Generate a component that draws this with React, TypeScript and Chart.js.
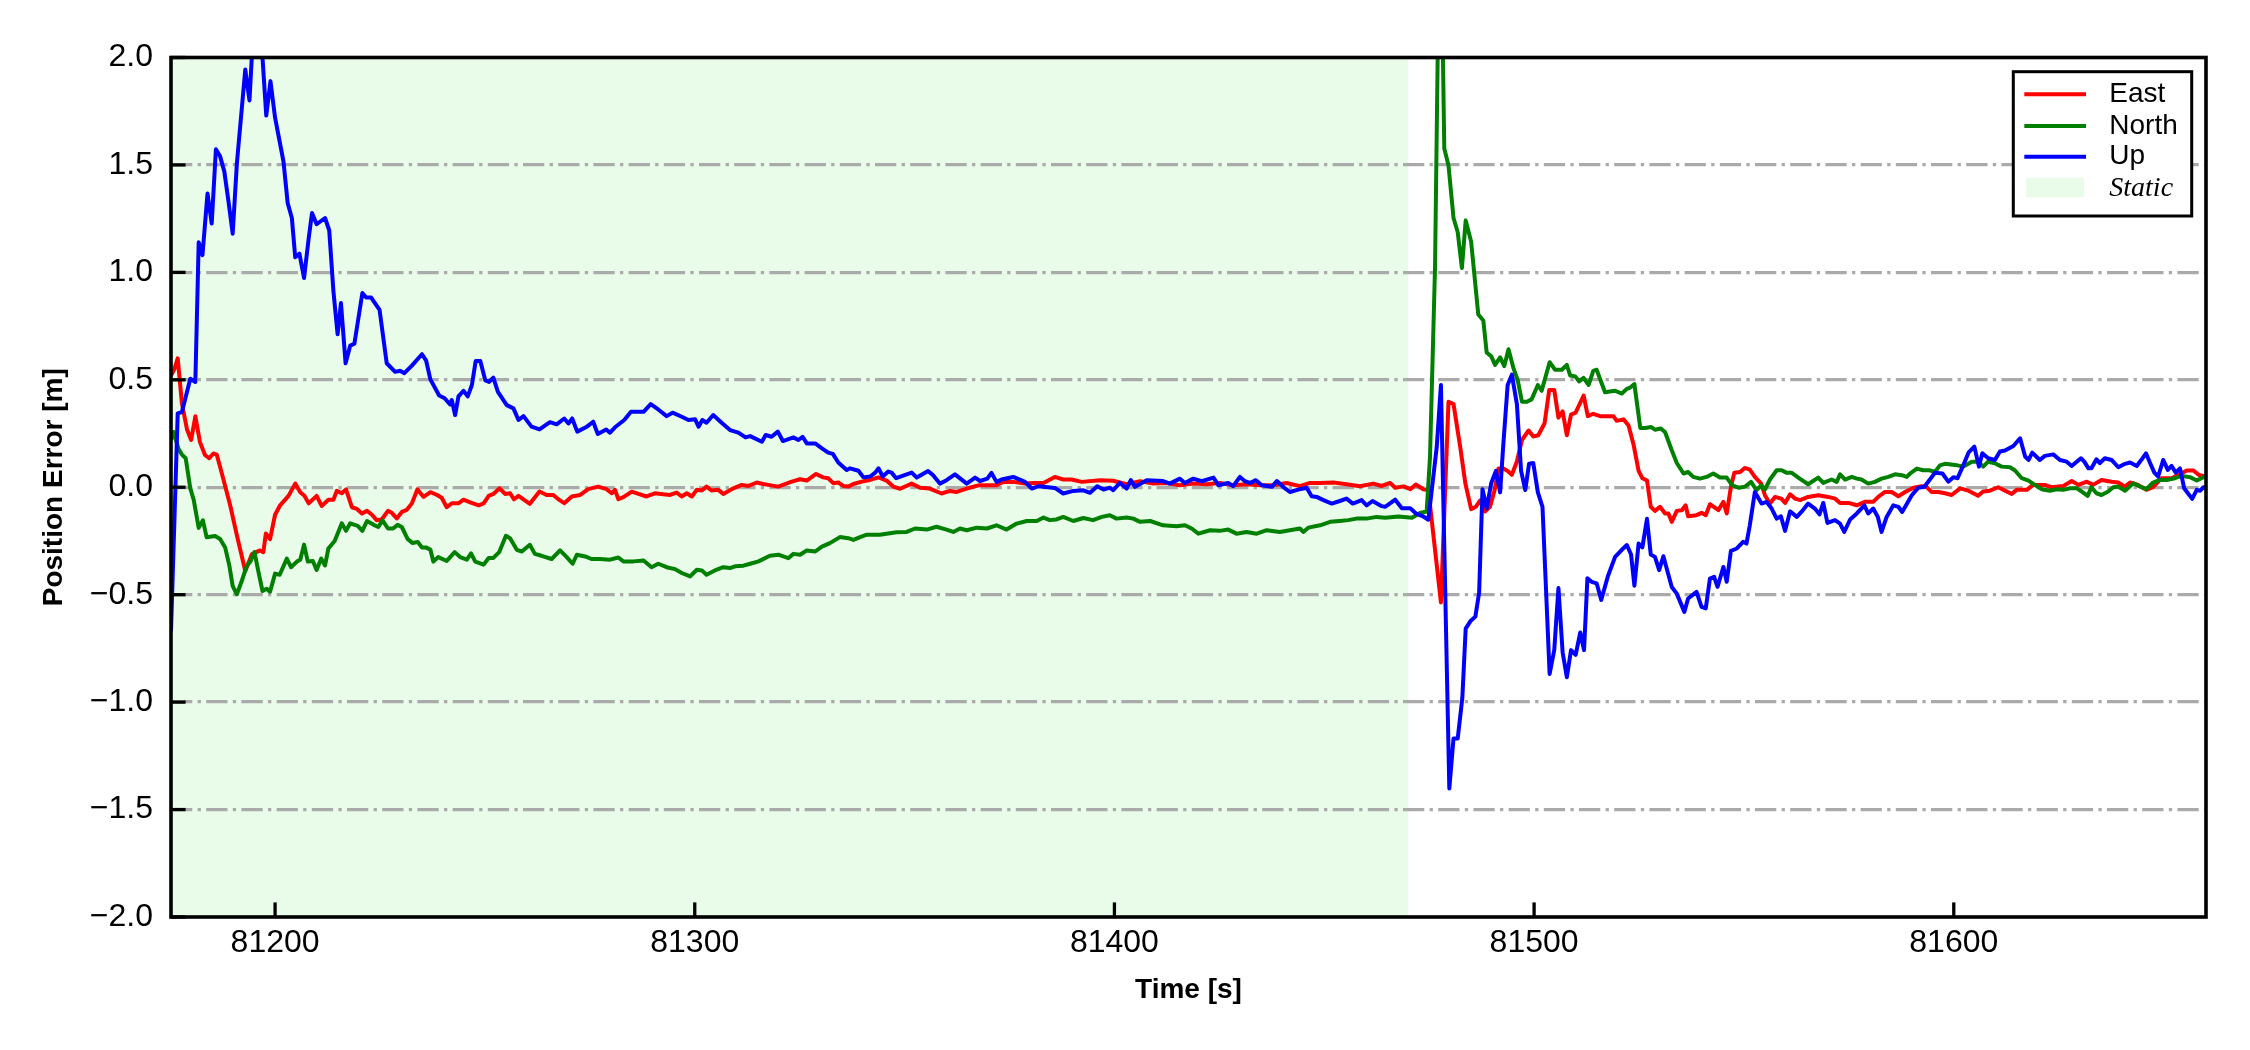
import React, { useEffect, useRef } from "react";
import { Chart, registerables } from "chart.js";

Chart.register(...registerables);

// ---------- axis / layout values ----------
const X_MIN = 81175.2;
const X_MAX = 81660.1;
const Y_MIN = -2;
const Y_MAX = 2;
const X_STEP = 100;
const Y_STEP = 0.5;
const STATIC_END = 81470;
const SERIES_LABELS = ["East", "North", "Up"];
const SERIES_COLORS = ["#ff0000", "#008000", "#0000ff"];
const STATIC_LABEL = "Static";
const STATIC_COLOR = "rgba(144,238,144,0.2)";
const X_TITLE = "Time [s]";
const Y_TITLE = "Position Error [m]";

// ---------- data: [time (s), error (m)] ----------
const EAST: [number, number][] = [
  [81175.2, 0.52], [81176.0, 0.55], [81176.8, 0.6], [81177.8, 0.39], [81179.0, 0.27], [81180.0, 0.22],
  [81181.0, 0.33], [81182.1, 0.21], [81183.3, 0.15], [81184.3, 0.135], [81185.3, 0.157], [81186.1, 0.152],
  [81187.3, 0.065], [81189.3, -0.084], [81190.9, -0.224], [81192.9, -0.39], [81194.5, -0.311], [81196.4, -0.294],
  [81197.2, -0.302], [81197.8, -0.215], [81198.8, -0.241], [81200.0, -0.128], [81201.2, -0.084], [81203.2, -0.04],
  [81204.8, 0.017], [81206.0, -0.023], [81207.0, -0.04], [81208.0, -0.075], [81209.9, -0.04], [81211.1, -0.087],
  [81212.7, -0.058], [81213.9, -0.058], [81214.7, -0.017], [81215.9, -0.028], [81216.9, -0.01], [81218.3, -0.093],
  [81219.5, -0.101], [81220.7, -0.122], [81221.9, -0.11], [81223.1, -0.128], [81224.2, -0.154], [81225.4, -0.15],
  [81226.9, -0.11], [81227.8, -0.119], [81229.0, -0.145], [81230.2, -0.115], [81231.4, -0.105], [81232.6, -0.075],
  [81233.9, -0.01], [81235.4, -0.045], [81237.0, -0.023], [81238.5, -0.035], [81239.7, -0.049], [81240.9, -0.093],
  [81242.1, -0.075], [81243.7, -0.075], [81244.9, -0.058], [81246.5, -0.07], [81248.5, -0.084], [81249.7, -0.075],
  [81250.9, -0.04], [81252.0, -0.031], [81253.5, -0.005], [81254.8, -0.031], [81256.0, -0.028], [81256.9, -0.056],
  [81258.0, -0.04], [81259.6, -0.062], [81260.7, -0.077], [81263.0, -0.02], [81264.7, -0.036], [81266.3, -0.036],
  [81267.7, -0.059], [81268.9, -0.074], [81270.7, -0.043], [81272.7, -0.036], [81274.6, -0.009], [81277.0, 0.003],
  [81279.0, -0.009], [81280.2, -0.028], [81281.0, -0.012], [81281.8, -0.056], [81283.0, -0.046], [81285.0, -0.02],
  [81286.6, -0.031], [81288.5, -0.043], [81290.5, -0.028], [81292.5, -0.033], [81294.1, -0.036], [81295.7, -0.025],
  [81296.9, -0.043], [81298.1, -0.028], [81299.3, -0.043], [81300.5, -0.012], [81301.7, -0.015], [81302.8, 0.003],
  [81304.0, -0.015], [81305.6, -0.012], [81306.8, -0.031], [81309.2, -0.005], [81311.2, 0.011], [81312.8, 0.006],
  [81314.8, 0.022], [81316.3, 0.015], [81317.5, 0.011], [81319.9, 0.003], [81321.5, 0.015], [81323.1, 0.026],
  [81325.1, 0.037], [81326.7, 0.031], [81328.9, 0.062], [81330.6, 0.046], [81331.8, 0.042], [81333.0, 0.019],
  [81334.2, 0.022], [81335.4, 0.006], [81336.6, 0.003], [81337.8, 0.015], [81339.8, 0.026], [81341.8, 0.034],
  [81343.8, 0.046], [81345.7, 0.031], [81347.3, 0.003], [81348.9, -0.007], [81351.7, 0.017], [81353.7, -0.002],
  [81356.0, -0.006], [81358.8, -0.029], [81360.8, -0.017], [81362.4, -0.022], [81364.8, -0.006], [81367.6, 0.009],
  [81369.9, 0.009], [81371.9, 0.009], [81373.5, 0.025], [81375.9, 0.025], [81378.7, 0.017], [81380.7, 0.02],
  [81383.1, 0.02], [81385.8, 0.048], [81387.8, 0.036], [81389.8, 0.036], [81392.2, 0.025], [81396.6, 0.033],
  [81399.7, 0.03], [81402.9, 0.014], [81406.1, 0.028], [81409.3, 0.017], [81412.4, 0.02], [81415.6, 0.009],
  [81418.8, 0.017], [81422.0, 0.014], [81425.1, 0.02], [81428.3, 0.009], [81431.5, 0.014], [81434.7, 0.009],
  [81437.9, 0.009], [81441.0, 0.02], [81444.2, 0.005], [81446.6, 0.02], [81449.0, 0.02], [81452.2, 0.022],
  [81455.3, 0.014], [81458.5, 0.005], [81461.7, 0.017], [81463.7, 0.006], [81465.7, 0.02], [81466.9, -0.002],
  [81468.9, 0.004], [81470.5, -0.009], [81471.8, 0.013], [81473.6, -0.009], [81474.8, -0.013], [81477.8, -0.536],
  [81479.6, 0.398], [81480.8, 0.387], [81482.4, 0.187], [81483.6, 0.02], [81485.0, -0.102], [81486.1, -0.091],
  [81487.1, -0.062], [81488.3, -0.113], [81489.5, -0.091], [81490.6, -0.013], [81491.5, 0.087], [81492.7, 0.087],
  [81493.7, 0.076], [81494.7, 0.058], [81495.9, 0.12], [81497.1, 0.22], [81498.7, 0.264], [81499.8, 0.236],
  [81501.0, 0.242], [81502.5, 0.298], [81503.6, 0.453], [81504.8, 0.453], [81505.8, 0.324], [81506.8, 0.353],
  [81507.8, 0.242], [81508.8, 0.338], [81509.9, 0.347], [81511.8, 0.427], [81512.8, 0.331], [81514.1, 0.342],
  [81515.7, 0.331], [81517.3, 0.331], [81518.9, 0.331], [81519.7, 0.309], [81521.3, 0.316], [81522.5, 0.287],
  [81523.7, 0.198], [81524.9, 0.076], [81525.8, 0.042], [81526.9, 0.031], [81527.8, -0.091], [81528.8, -0.11],
  [81530.0, -0.091], [81531.2, -0.122], [81532.0, -0.122], [81532.8, -0.161], [81534.0, -0.11], [81535.2, -0.107],
  [81536.1, -0.084], [81536.7, -0.135], [81538.7, -0.13], [81539.9, -0.119], [81540.9, -0.13], [81541.9, -0.079],
  [81543.9, -0.107], [81545.1, -0.068], [81545.9, -0.122], [81546.9, 0.002], [81547.7, 0.067], [81549.1, 0.071],
  [81550.2, 0.09], [81551.4, 0.082], [81552.6, 0.048], [81554.1, 0.017], [81555.0, -0.037], [81556.2, -0.076],
  [81557.4, -0.045], [81558.9, -0.053], [81559.8, -0.073], [81561.0, -0.033], [81562.2, -0.053], [81563.4, -0.06],
  [81565.3, -0.045], [81567.7, -0.037], [81570.1, -0.045], [81571.7, -0.053], [81572.9, -0.073], [81574.9, -0.073],
  [81576.9, -0.084], [81578.8, -0.068], [81580.8, -0.068], [81582.0, -0.045], [81583.6, -0.022], [81585.2, -0.022],
  [81586.8, -0.042], [81588.4, -0.022], [81590.4, -0.002], [81592.3, 0.005], [81593.5, 0.002], [81594.7, -0.022],
  [81596.3, -0.022], [81597.9, -0.028], [81599.5, -0.036], [81601.5, -0.005], [81603.5, -0.016], [81605.8, -0.04],
  [81607.0, -0.02], [81608.6, -0.016], [81610.6, 0.0], [81612.6, -0.02], [81613.8, -0.031], [81615.0, -0.012],
  [81617.4, -0.012], [81618.9, 0.011], [81621.7, 0.011], [81623.3, 0.0], [81626.1, 0.006], [81628.1, 0.029],
  [81629.7, 0.011], [81631.7, 0.026], [81633.2, 0.011], [81635.2, 0.034], [81637.6, 0.026], [81639.2, 0.022],
  [81640.8, 0.003], [81642.0, 0.022], [81643.9, 0.011], [81645.9, -0.012], [81647.5, 0.0], [81649.5, 0.042],
  [81651.9, 0.042], [81653.5, 0.057], [81655.5, 0.078], [81657.1, 0.078], [81658.4, 0.057], [81659.5, 0.053],
  [81660.0, 0.05],
];

const NORTH: [number, number][] = [
  [81175.2, 0.22], [81175.8, 0.257], [81177.0, 0.178], [81177.8, 0.152], [81178.7, 0.135], [81179.8, -0.005],
  [81180.6, -0.058], [81181.8, -0.189], [81182.8, -0.154], [81183.7, -0.233], [81185.7, -0.227], [81186.9, -0.241],
  [81188.1, -0.28], [81189.1, -0.364], [81189.9, -0.46], [81190.9, -0.498], [81192.1, -0.434], [81193.3, -0.364],
  [81194.1, -0.346], [81195.1, -0.302], [81196.0, -0.39], [81197.0, -0.483], [81198.0, -0.472], [81198.8, -0.486],
  [81200.0, -0.402], [81201.1, -0.407], [81202.8, -0.332], [81203.8, -0.372], [81205.2, -0.346], [81206.0, -0.337],
  [81206.9, -0.267], [81207.8, -0.346], [81209.0, -0.343], [81209.9, -0.385], [81211.0, -0.332], [81211.9, -0.364],
  [81212.7, -0.285], [81214.2, -0.25], [81215.9, -0.168], [81216.9, -0.203], [81217.9, -0.168], [81219.7, -0.18],
  [81220.8, -0.203], [81221.9, -0.157], [81223.5, -0.175], [81224.6, -0.185], [81225.6, -0.154], [81226.9, -0.192],
  [81228.1, -0.192], [81229.2, -0.175], [81230.2, -0.185], [81231.6, -0.241], [81232.7, -0.259], [81234.0, -0.255],
  [81235.0, -0.28], [81235.9, -0.28], [81237.0, -0.29], [81237.7, -0.346], [81238.9, -0.325], [81240.9, -0.343],
  [81242.8, -0.302], [81244.1, -0.325], [81245.7, -0.337], [81246.7, -0.308], [81247.7, -0.346], [81249.7, -0.36],
  [81250.9, -0.329], [81252.0, -0.329], [81253.4, -0.302], [81255.0, -0.226], [81256.0, -0.237], [81257.6, -0.291],
  [81258.8, -0.299], [81260.7, -0.268], [81261.9, -0.31], [81263.5, -0.319], [81265.9, -0.334], [81267.9, -0.294],
  [81269.5, -0.325], [81270.9, -0.356], [81271.9, -0.314], [81273.9, -0.322], [81275.4, -0.334], [81277.4, -0.334],
  [81279.8, -0.337], [81281.8, -0.327], [81283.0, -0.345], [81285.4, -0.345], [81287.8, -0.341], [81289.7, -0.372],
  [81291.3, -0.356], [81293.3, -0.372], [81295.3, -0.381], [81296.9, -0.399], [81298.9, -0.415], [81300.5, -0.384],
  [81301.7, -0.387], [81302.8, -0.407], [81304.8, -0.387], [81306.8, -0.372], [81308.4, -0.376], [81309.6, -0.368],
  [81311.6, -0.365], [81313.2, -0.356], [81315.2, -0.345], [81317.9, -0.319], [81319.9, -0.314], [81322.3, -0.33],
  [81323.5, -0.31], [81325.1, -0.314], [81326.7, -0.294], [81328.7, -0.299], [81330.3, -0.276], [81332.2, -0.26],
  [81334.6, -0.232], [81336.6, -0.237], [81337.8, -0.245], [81339.4, -0.232], [81341.0, -0.221], [81344.1, -0.221],
  [81346.5, -0.214], [81348.1, -0.209], [81350.5, -0.208], [81352.5, -0.192], [81355.3, -0.197], [81357.6, -0.184],
  [81360.0, -0.197], [81361.6, -0.208], [81363.2, -0.192], [81364.8, -0.2], [81367.2, -0.188], [81369.6, -0.192],
  [81371.9, -0.177], [81374.3, -0.197], [81376.7, -0.169], [81379.1, -0.157], [81381.5, -0.157], [81383.1, -0.141],
  [81384.6, -0.153], [81386.2, -0.15], [81387.8, -0.138], [81390.2, -0.157], [81392.6, -0.143], [81394.9, -0.153],
  [81397.0, -0.138], [81398.9, -0.13], [81400.5, -0.146], [81402.9, -0.141], [81404.5, -0.146], [81406.1, -0.161],
  [81408.5, -0.157], [81411.6, -0.177], [81414.8, -0.181], [81416.8, -0.177], [81418.4, -0.192], [81420.0, -0.216],
  [81422.8, -0.2], [81425.1, -0.203], [81427.1, -0.197], [81429.1, -0.216], [81431.5, -0.208], [81433.9, -0.216],
  [81436.3, -0.2], [81439.4, -0.208], [81441.8, -0.2], [81444.2, -0.192], [81445.0, -0.208], [81446.2, -0.188],
  [81449.0, -0.177], [81451.4, -0.161], [81453.7, -0.157], [81455.7, -0.153], [81457.7, -0.146], [81460.1, -0.146],
  [81462.5, -0.138], [81464.5, -0.142], [81467.7, -0.136], [81470.9, -0.142], [81472.8, -0.12], [81474.4, -0.113],
  [81475.2, 0.142], [81476.4, 1.03], [81477.6, 2.9], [81478.6, 1.576], [81479.6, 1.498], [81480.8, 1.253],
  [81481.8, 1.187], [81482.8, 1.02], [81483.7, 1.242], [81485.0, 1.142], [81486.7, 0.804], [81487.9, 0.776],
  [81488.7, 0.627], [81489.8, 0.609], [81490.7, 0.569], [81491.9, 0.604], [81492.9, 0.564], [81493.9, 0.642],
  [81495.1, 0.553], [81496.1, 0.498], [81497.1, 0.398], [81498.3, 0.398], [81499.4, 0.409], [81500.9, 0.476],
  [81501.8, 0.449], [81503.7, 0.582], [81505.0, 0.547], [81506.6, 0.547], [81507.8, 0.569], [81508.6, 0.52],
  [81509.8, 0.516], [81510.7, 0.493], [81511.8, 0.509], [81513.0, 0.476], [81514.1, 0.542], [81514.9, 0.547],
  [81516.9, 0.442], [81519.3, 0.449], [81520.9, 0.436], [81522.1, 0.458], [81522.9, 0.464], [81523.9, 0.48],
  [81525.3, 0.276], [81526.5, 0.276], [81527.9, 0.28], [81528.8, 0.268], [81530.2, 0.273], [81531.2, 0.257],
  [81532.8, 0.172], [81534.0, 0.113], [81535.6, 0.064], [81536.7, 0.071], [81537.9, 0.048], [81539.5, 0.04],
  [81541.1, 0.048], [81542.7, 0.064], [81544.3, 0.045], [81545.9, 0.045], [81547.2, 0.009], [81548.7, -0.002],
  [81550.2, 0.002], [81551.7, 0.025], [81553.0, -0.014], [81554.1, 0.009], [81555.0, -0.011], [81556.2, 0.036],
  [81557.8, 0.079], [81559.0, 0.079], [81560.2, 0.067], [81561.4, 0.067], [81563.3, 0.04], [81565.3, 0.014],
  [81567.7, 0.045], [81568.9, 0.02], [81570.9, 0.036], [81572.1, 0.025], [81572.9, 0.06], [81574.1, 0.036],
  [81575.7, 0.048], [81576.9, 0.04], [81578.0, 0.036], [81579.6, 0.017], [81581.2, 0.025], [81582.8, 0.04],
  [81584.4, 0.048], [81586.0, 0.06], [81587.6, 0.056], [81588.8, 0.048], [81589.6, 0.064], [81591.2, 0.087],
  [81592.7, 0.079], [81594.3, 0.079], [81595.5, 0.071], [81596.7, 0.102], [81597.9, 0.109], [81600.3, 0.104],
  [81602.3, 0.096], [81604.3, 0.119], [81605.8, 0.119], [81607.0, 0.096], [81608.2, 0.119], [81609.8, 0.112],
  [81611.4, 0.096], [81613.4, 0.093], [81614.6, 0.078], [81616.2, 0.042], [81617.8, 0.031], [81619.3, 0.011],
  [81620.9, -0.009], [81622.9, -0.016], [81624.5, -0.009], [81626.1, -0.012], [81627.7, -0.005], [81629.3, -0.005],
  [81630.5, -0.02], [81631.9, -0.04], [81632.8, 0.0], [81634.0, -0.028], [81635.2, -0.036], [81636.8, -0.02],
  [81638.0, 0.0], [81639.2, 0.003], [81640.8, -0.016], [81642.8, 0.019], [81644.4, 0.003], [81645.9, -0.009],
  [81647.5, 0.022], [81649.1, 0.034], [81650.7, 0.034], [81652.7, 0.042], [81654.3, 0.053], [81656.3, 0.047],
  [81657.9, 0.031], [81659.5, 0.047], [81660.0, 0.05],
];

const UP: [number, number][] = [
  [81175.2, -0.67], [81176.8, 0.344], [81177.8, 0.35], [81179.8, 0.505], [81181.0, 0.49], [81181.8, 1.14],
  [81182.7, 1.08], [81183.9, 1.367], [81184.9, 1.227], [81185.9, 1.573], [81186.9, 1.54], [81187.9, 1.47],
  [81188.9, 1.33], [81189.9, 1.18], [81190.9, 1.507], [81192.9, 1.944], [81193.9, 1.8], [81195.0, 2.2],
  [81196.5, 2.15], [81197.9, 1.73], [81198.9, 1.89], [81200.0, 1.72], [81202.0, 1.516], [81203.0, 1.323],
  [81204.0, 1.253], [81204.8, 1.07], [81205.8, 1.087], [81206.9, 0.974], [81208.0, 1.157], [81208.8, 1.276],
  [81209.9, 1.224], [81211.9, 1.253], [81212.9, 1.196], [81213.9, 0.913], [81214.9, 0.712], [81215.7, 0.857],
  [81216.8, 0.577], [81217.9, 0.659], [81218.9, 0.668], [81220.8, 0.904], [81221.7, 0.883], [81222.9, 0.883],
  [81224.9, 0.825], [81226.6, 0.577], [81228.6, 0.537], [81229.8, 0.542], [81230.8, 0.531], [81232.6, 0.566],
  [81235.0, 0.619], [81236.0, 0.589], [81237.0, 0.502], [81239.1, 0.427], [81240.4, 0.414], [81241.7, 0.385],
  [81242.1, 0.406], [81242.9, 0.336], [81243.7, 0.423], [81244.9, 0.449], [81245.9, 0.423], [81246.9, 0.476],
  [81247.8, 0.587], [81248.9, 0.587], [81250.1, 0.497], [81251.0, 0.49], [81252.0, 0.51], [81253.1, 0.444],
  [81255.2, 0.382], [81256.8, 0.367], [81258.0, 0.313], [81259.2, 0.331], [81261.1, 0.282], [81263.0, 0.269],
  [81265.5, 0.303], [81267.1, 0.293], [81268.9, 0.32], [81269.9, 0.297], [81270.8, 0.32], [81272.0, 0.259],
  [81274.3, 0.282], [81275.8, 0.305], [81276.9, 0.248], [81278.9, 0.269], [81279.8, 0.254], [81281.0, 0.279],
  [81283.2, 0.313], [81284.8, 0.351], [81287.8, 0.351], [81289.5, 0.387], [81291.3, 0.362], [81293.3, 0.331],
  [81294.7, 0.347], [81296.9, 0.328], [81298.5, 0.313], [81300.1, 0.316], [81300.9, 0.282], [81301.8, 0.313],
  [81302.8, 0.3], [81304.4, 0.336], [81306.4, 0.3], [81308.4, 0.266], [81310.4, 0.254], [81312.1, 0.232],
  [81313.2, 0.238], [81316.0, 0.212], [81316.9, 0.243], [81318.3, 0.235], [81319.8, 0.259], [81321.0, 0.215],
  [81323.5, 0.232], [81324.7, 0.22], [81325.7, 0.235], [81326.7, 0.204], [81328.7, 0.204], [81330.3, 0.181],
  [81331.8, 0.161], [81332.9, 0.155], [81334.2, 0.115], [81336.2, 0.08], [81337.0, 0.088], [81339.0, 0.077],
  [81340.2, 0.046], [81341.8, 0.05], [81343.0, 0.068], [81343.8, 0.088], [81344.8, 0.05], [81346.1, 0.073],
  [81346.9, 0.068], [81348.0, 0.042], [81350.5, 0.06], [81351.7, 0.068], [81352.9, 0.045], [81355.6, 0.076],
  [81356.8, 0.056], [81358.4, 0.017], [81360.0, 0.033], [81362.0, 0.06], [81364.8, 0.017], [81366.8, 0.045],
  [81368.0, 0.029], [81369.7, 0.04], [81370.7, 0.067], [81371.9, 0.025], [81373.1, 0.036], [81375.9, 0.048],
  [81378.7, 0.025], [81380.3, -0.006], [81381.9, 0.005], [81385.8, -0.003], [81387.8, -0.029], [81390.2, -0.017],
  [81392.6, -0.014], [81394.2, -0.026], [81395.9, 0.005], [81397.4, -0.011], [81398.9, -0.002], [81399.7, -0.014],
  [81401.3, 0.02], [81402.9, -0.006], [81403.9, 0.033], [81404.9, 0.002], [81407.7, 0.033], [81411.6, 0.029],
  [81413.2, 0.017], [81415.6, 0.04], [81416.8, 0.02], [81418.8, 0.04], [81420.8, 0.028], [81423.6, 0.045],
  [81424.8, 0.009], [81427.1, 0.02], [81428.3, 0.005], [81429.9, 0.048], [81431.1, 0.028], [81432.3, 0.02],
  [81433.7, 0.033], [81435.1, 0.009], [81437.5, 0.002], [81438.7, 0.029], [81440.2, 0.002], [81441.8, -0.022],
  [81443.8, -0.011], [81445.8, -0.002], [81447.0, -0.042], [81448.2, -0.045], [81449.8, -0.06], [81451.8, -0.076],
  [81453.7, -0.064], [81455.3, -0.053], [81456.8, -0.076], [81458.9, -0.06], [81460.1, -0.084], [81461.5, -0.064],
  [81463.7, -0.088], [81464.5, -0.091], [81466.9, -0.058], [81468.5, -0.098], [81470.5, -0.098], [81472.0, -0.124],
  [81473.6, -0.136], [81474.8, -0.151], [81476.8, 0.187], [81477.8, 0.476], [81479.8, -1.402], [81480.8, -1.169],
  [81481.8, -1.169], [81482.9, -0.98], [81483.7, -0.658], [81484.8, -0.624], [81486.0, -0.602], [81486.9, -0.491],
  [81487.7, -0.009], [81488.7, -0.098], [81489.8, 0.02], [81490.9, 0.076], [81491.9, -0.024], [81492.7, 0.209],
  [81493.7, 0.476], [81494.7, 0.524], [81495.9, 0.387], [81496.9, 0.076], [81497.9, -0.013], [81498.8, 0.109],
  [81499.8, 0.113], [81500.9, -0.024], [81502.0, -0.091], [81503.7, -0.869], [81504.8, -0.758], [81505.8, -0.469],
  [81506.8, -0.769], [81507.8, -0.884], [81508.8, -0.758], [81509.9, -0.78], [81511.0, -0.676], [81511.9, -0.758],
  [81512.7, -0.424], [81513.7, -0.44], [81514.9, -0.447], [81516.0, -0.524], [81517.6, -0.413], [81519.3, -0.324],
  [81520.9, -0.291], [81522.1, -0.269], [81523.1, -0.313], [81523.9, -0.458], [81524.9, -0.262], [81525.8, -0.28],
  [81526.9, -0.147], [81527.8, -0.313], [81528.8, -0.324], [81529.8, -0.386], [81530.8, -0.321], [81532.8, -0.464],
  [81534.0, -0.495], [81535.8, -0.58], [81536.7, -0.518], [81538.7, -0.487], [81539.9, -0.557], [81540.9, -0.564],
  [81541.9, -0.425], [81542.9, -0.417], [81543.7, -0.464], [81545.1, -0.371], [81545.9, -0.44], [81546.9, -0.296],
  [81548.3, -0.285], [81549.8, -0.254], [81550.6, -0.262], [81551.4, -0.177], [81552.6, -0.022], [81554.2, -0.076],
  [81555.4, -0.068], [81556.6, -0.099], [81557.8, -0.146], [81558.8, -0.135], [81559.8, -0.203], [81561.0, -0.112],
  [81562.6, -0.138], [81563.7, -0.115], [81565.3, -0.076], [81566.9, -0.099], [81568.0, -0.126], [81568.9, -0.073],
  [81569.9, -0.166], [81571.7, -0.153], [81572.9, -0.169], [81573.9, -0.208], [81575.3, -0.15], [81576.9, -0.122],
  [81578.7, -0.084], [81579.6, -0.122], [81580.8, -0.099], [81581.9, -0.138], [81582.8, -0.208], [81584.0, -0.138],
  [81585.6, -0.084], [81586.8, -0.091], [81587.7, -0.115], [81590.0, -0.037], [81591.5, -0.003], [81593.0, 0.002],
  [81595.5, 0.067], [81597.3, 0.064], [81598.7, 0.026], [81599.9, 0.047], [81600.9, 0.042], [81602.3, 0.104],
  [81603.5, 0.161], [81604.9, 0.189], [81606.0, 0.096], [81606.8, 0.158], [81608.2, 0.135], [81609.8, 0.127],
  [81611.0, 0.166], [81612.2, 0.171], [81614.2, 0.192], [81615.8, 0.228], [81617.0, 0.143], [81617.8, 0.127],
  [81618.7, 0.161], [81620.5, 0.127], [81621.7, 0.146], [81623.7, 0.153], [81625.3, 0.127], [81626.9, 0.119],
  [81628.1, 0.099], [81629.3, 0.119], [81630.3, 0.135], [81631.1, 0.119], [81632.1, 0.088], [81632.8, 0.088],
  [81634.0, 0.13], [81634.8, 0.112], [81636.0, 0.135], [81637.6, 0.127], [81639.2, 0.093], [81640.8, 0.109],
  [81642.0, 0.115], [81643.6, 0.099], [81644.8, 0.13], [81645.8, 0.158], [81646.8, 0.112], [81647.8, 0.068],
  [81648.7, 0.05], [81649.9, 0.127], [81651.0, 0.081], [81651.9, 0.099], [81652.9, 0.068], [81653.9, 0.088],
  [81654.9, -0.005], [81656.8, -0.054], [81657.9, -0.012], [81658.7, -0.016], [81659.5, 0.0], [81660.0, 0.0],
];

const SANS = "'Liberation Sans', Arial, Helvetica, sans-serif";
const SERIF = "'Liberation Serif', 'Times New Roman', serif";

function fmtY(v: number): string {
  const s = Math.abs(v).toFixed(1);
  return v < 0 ? "\u2212" + s : s;
}

const framePlugin = {
  id: "mplFrame",
  beforeDraw(chart: any) {
    const { ctx, chartArea: a, scales } = chart;
    const x1 = Math.max(a.left, scales.x.getPixelForValue(X_MIN));
    const x2 = scales.x.getPixelForValue(STATIC_END);
    ctx.save();
    ctx.fillStyle = STATIC_COLOR;
    ctx.fillRect(x1, a.top, x2 - x1, a.bottom - a.top);
    ctx.restore();
  },
  afterDatasetsDraw(chart: any) {
    const { ctx, chartArea: a, scales } = chart;
    ctx.save();
    ctx.strokeStyle = "#000";
    ctx.lineWidth = 3.3;
    ctx.lineCap = "butt";
    const tl = 14.6;
    for (const t of scales.y.ticks) {
      const y = scales.y.getPixelForValue(t.value);
      ctx.beginPath();
      ctx.moveTo(a.left, y);
      ctx.lineTo(a.left + tl, y);
      ctx.stroke();
    }
    for (const t of scales.x.ticks) {
      const x = scales.x.getPixelForValue(t.value);
      ctx.beginPath();
      ctx.moveTo(x, a.bottom);
      ctx.lineTo(x, a.bottom - tl);
      ctx.stroke();
    }
    ctx.lineWidth = 3.6;
    ctx.lineJoin = "miter";
    ctx.strokeRect(a.left, a.top, a.right - a.left, a.bottom - a.top);
    ctx.restore();
  },
  afterDraw(chart: any) {
    const { ctx, chartArea: a } = chart;
    const bw = 178.4;
    const bh = 144.3;
    const bx = a.right - 14.3 - bw;
    const by = a.top + 14.2;
    ctx.save();
    ctx.fillStyle = "#fff";
    ctx.fillRect(bx, by, bw, bh);
    ctx.strokeStyle = "#000";
    ctx.lineWidth = 3;
    ctx.strokeRect(bx, by, bw, bh);
    const rows = [22.6, 54.3, 85.0];
    ctx.textBaseline = "middle";
    ctx.textAlign = "left";
    rows.forEach((dy, i) => {
      ctx.strokeStyle = SERIES_COLORS[i];
      ctx.lineWidth = 4;
      ctx.beginPath();
      ctx.moveTo(bx + 11, by + dy);
      ctx.lineTo(bx + 72.7, by + dy);
      ctx.stroke();
      ctx.fillStyle = "#000";
      ctx.font = `28px ${SANS}`;
      ctx.fillText(SERIES_LABELS[i], bx + 96, by + dy);
    });
    ctx.fillStyle = STATIC_COLOR;
    ctx.fillRect(bx + 12.7, by + 106, 58, 19.6);
    ctx.fillStyle = "#000";
    ctx.font = `italic 28px ${SERIF}`;
    ctx.fillText(STATIC_LABEL, bx + 96, by + 116.5);
    ctx.restore();
  },
};

const toPoints = (arr: [number, number][]) => arr.map(([x, y]) => ({ x, y }));

export default function App() {
  const canvasRef = useRef<HTMLCanvasElement | null>(null);

  useEffect(() => {
    const canvas = canvasRef.current;
    if (!canvas) return;
    const seriesData = [EAST, NORTH, UP];
    const chart = new Chart(canvas, {
      type: "line",
      data: {
        datasets: seriesData.map((d, i) => ({
          label: SERIES_LABELS[i],
          data: toPoints(d),
          borderColor: SERIES_COLORS[i],
          backgroundColor: SERIES_COLORS[i],
          borderWidth: 4,
          pointRadius: 0,
          pointHoverRadius: 0,
          tension: 0,
          fill: false,
          borderJoinStyle: "round" as const,
          borderCapStyle: "butt" as const,
          clip: 0,
          order: 3 - i,
        })),
      },
      options: {
        animation: false,
        responsive: false,
        maintainAspectRatio: false,
        devicePixelRatio: 1,
        events: [],
        layout: { padding: { top: 57.5, right: 44, bottom: 0, left: 0 } },
        plugins: { legend: { display: false }, tooltip: { enabled: false } },
        scales: {
          x: {
            type: "linear",
            min: X_MIN,
            max: X_MAX,
            afterFit: (s: any) => {
              s.height = 133;
            },
            grid: { display: false, drawTicks: false },
            border: { display: false },
            ticks: {
              stepSize: X_STEP,
              includeBounds: false,
              autoSkip: false,
              maxRotation: 0,
              padding: 7,
              color: "#000",
              font: { family: SANS, size: 32 },
              callback: (v: any) => String(v),
            },
            title: {
              display: true,
              text: X_TITLE,
              color: "#000",
              font: { family: SANS, size: 28, weight: "bold" },
              padding: { top: 0, bottom: 43 },
            },
          },
          y: {
            type: "linear",
            min: Y_MIN,
            max: Y_MAX,
            afterFit: (s: any) => {
              s.width = 171;
            },
            grid: {
              drawTicks: false,
              lineWidth: 3.3,
              color: (ctx: any) =>
                ctx.tick && Math.abs(ctx.tick.value) >= 2 ? "rgba(0,0,0,0)" : "#aaaaaa",
            },
            border: { display: false, dash: [21.3, 5.3, 3.3, 5.3] },
            ticks: {
              stepSize: Y_STEP,
              autoSkip: false,
              padding: 18,
              color: "#000",
              font: { family: SANS, size: 32 },
              callback: (v: any) => fmtY(Number(v)),
            },
            title: {
              display: true,
              text: Y_TITLE,
              color: "#000",
              font: { family: SANS, size: 28, weight: "bold" },
              padding: { top: 37.7, bottom: 0 },
            },
          },
        },
      },
      plugins: [framePlugin],
    } as any);
    return () => chart.destroy();
  }, []);

  return (
    <div style={{ position: "fixed", left: 0, top: 0, width: 2250, height: 1050, background: "#fff" }}>
      <canvas ref={canvasRef} width={2250} height={1050} style={{ display: "block", width: 2250, height: 1050 }} />
    </div>
  );
}
